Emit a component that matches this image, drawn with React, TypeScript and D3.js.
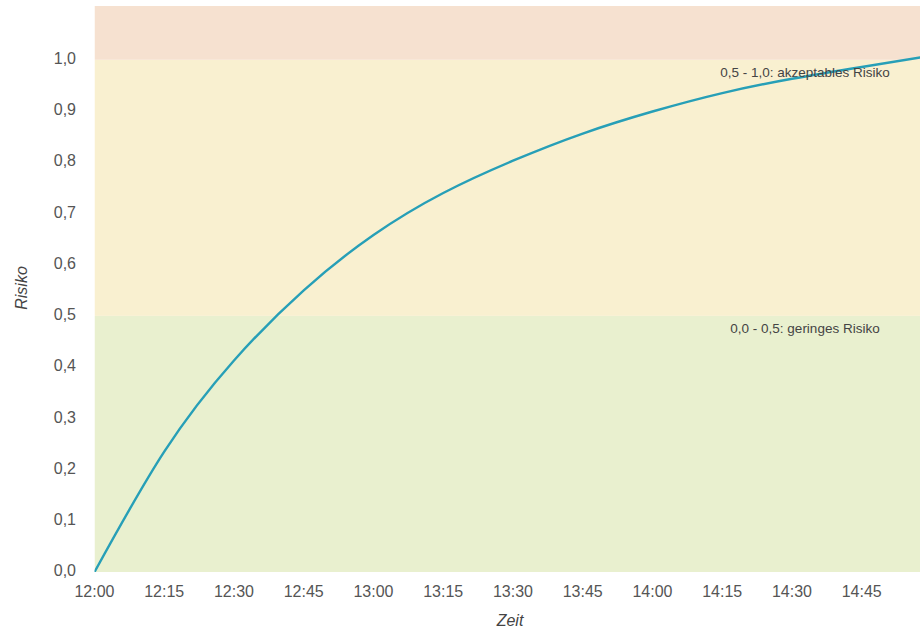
import React from "react";
import * as d3 from "d3";

// ---- data ----
const timeLabels = ["12:00", "12:15", "12:30", "12:45", "13:00", "13:15", "13:30", "13:45", "14:00", "14:15", "14:30", "14:45"];
const riskTimes = ["12:00", "12:15", "12:30", "12:45", "13:00", "13:15", "13:30", "13:45", "14:00", "14:15", "14:30", "14:45", "15:00"];
const riskValues = [0, 0.235, 0.413, 0.55, 0.658, 0.74, 0.803, 0.856, 0.899, 0.935, 0.963, 0.986, 1.008];
const yTicks = [0, 0.1, 0.2, 0.3, 0.4, 0.5, 0.6, 0.7, 0.8, 0.9, 1.0];
const bandFrom = [0, 0.5, 1.0];
const bandTo = [0.5, 1.0, 1.105];
const bandLabels = ["0,0 - 0,5: geringes Risiko", "0,5 - 1,0: akzeptables Risiko", ""];
const xDomain = ["12:00", "15:00"];
const xTitle = "Zeit";
const yTitle = "Risiko";

// ---- styles ----
const bandColors = ["#e9f0cf", "#f9f0d0", "#f6e1d0"];
const lineColor = "#279fb7";
const textColor = "#555555";
const fontFamily = "'Liberation Sans', Arial, sans-serif";

const W = 920;
const H = 630;
const left = 94.5;
const right = 931.5;
const top = 6;
const bottom = 572;

export default function App() {
  const parse = d3.timeParse("%H:%M");
  const fmtTime = d3.timeFormat("%H:%M");
  const x = d3.scaleTime().domain(xDomain.map((t) => parse(t) as Date)).range([left, right]);
  const y = d3.scaleLinear().domain([0, 1.105]).range([bottom, top]);
  const fmtY = (v: number) => d3.format(".1f")(v).replace(".", ",");

  const pts = riskTimes.map((t, i) => [x(parse(t) as Date), y(riskValues[i])] as [number, number]);
  const line = d3.line().curve(d3.curveNatural)(pts) || "";

  const labelX = W - 115;

  return (
    <svg
      width={W}
      height={H}
      style={{ position: "absolute", left: 0, top: 0, background: "#ffffff" }}
      fontFamily={fontFamily}
    >
      <defs>
        <clipPath id="plotClip">
          <rect x={left} y={top} width={W - left} height={bottom - top} />
        </clipPath>
      </defs>
      <g clipPath="url(#plotClip)">
        {bandFrom.map((f, i) => (
          <rect
            key={i}
            x={left}
            y={y(bandTo[i])}
            width={right - left}
            height={y(f) - y(bandTo[i])}
            fill={bandColors[i]}
          />
        ))}
        <path d={line} fill="none" stroke={lineColor} strokeWidth={2.4} />
        {bandLabels.map((l, i) =>
          l ? (
            <text
              key={i}
              x={labelX}
              y={y(bandTo[i]) + 14}
              textAnchor="middle"
              dominantBaseline="middle"
              fontSize={13.5}
              fill="#444"
            >
              {l}
            </text>
          ) : null
        )}
      </g>
      {yTicks.map((v) => (
        <text key={v} x={76} y={y(v)} textAnchor="end" dominantBaseline="middle" fontSize={16} fill={textColor}>
          {fmtY(v)}
        </text>
      ))}
      {timeLabels.map((t) => {
        const d = parse(t) as Date;
        return (
          <text key={t} x={x(d)} y={597} textAnchor="middle" fontSize={16} fill={textColor}>
            {fmtTime(d)}
          </text>
        );
      })}
      <text x={510} y={626} textAnchor="middle" fontSize={16} fontStyle="italic" fill="#444">
        {xTitle}
      </text>
      <text
        transform={`translate(27,288) rotate(-90)`}
        textAnchor="middle"
        fontSize={16}
        fontStyle="italic"
        fill="#444"
      >
        {yTitle}
      </text>
    </svg>
  );
}
